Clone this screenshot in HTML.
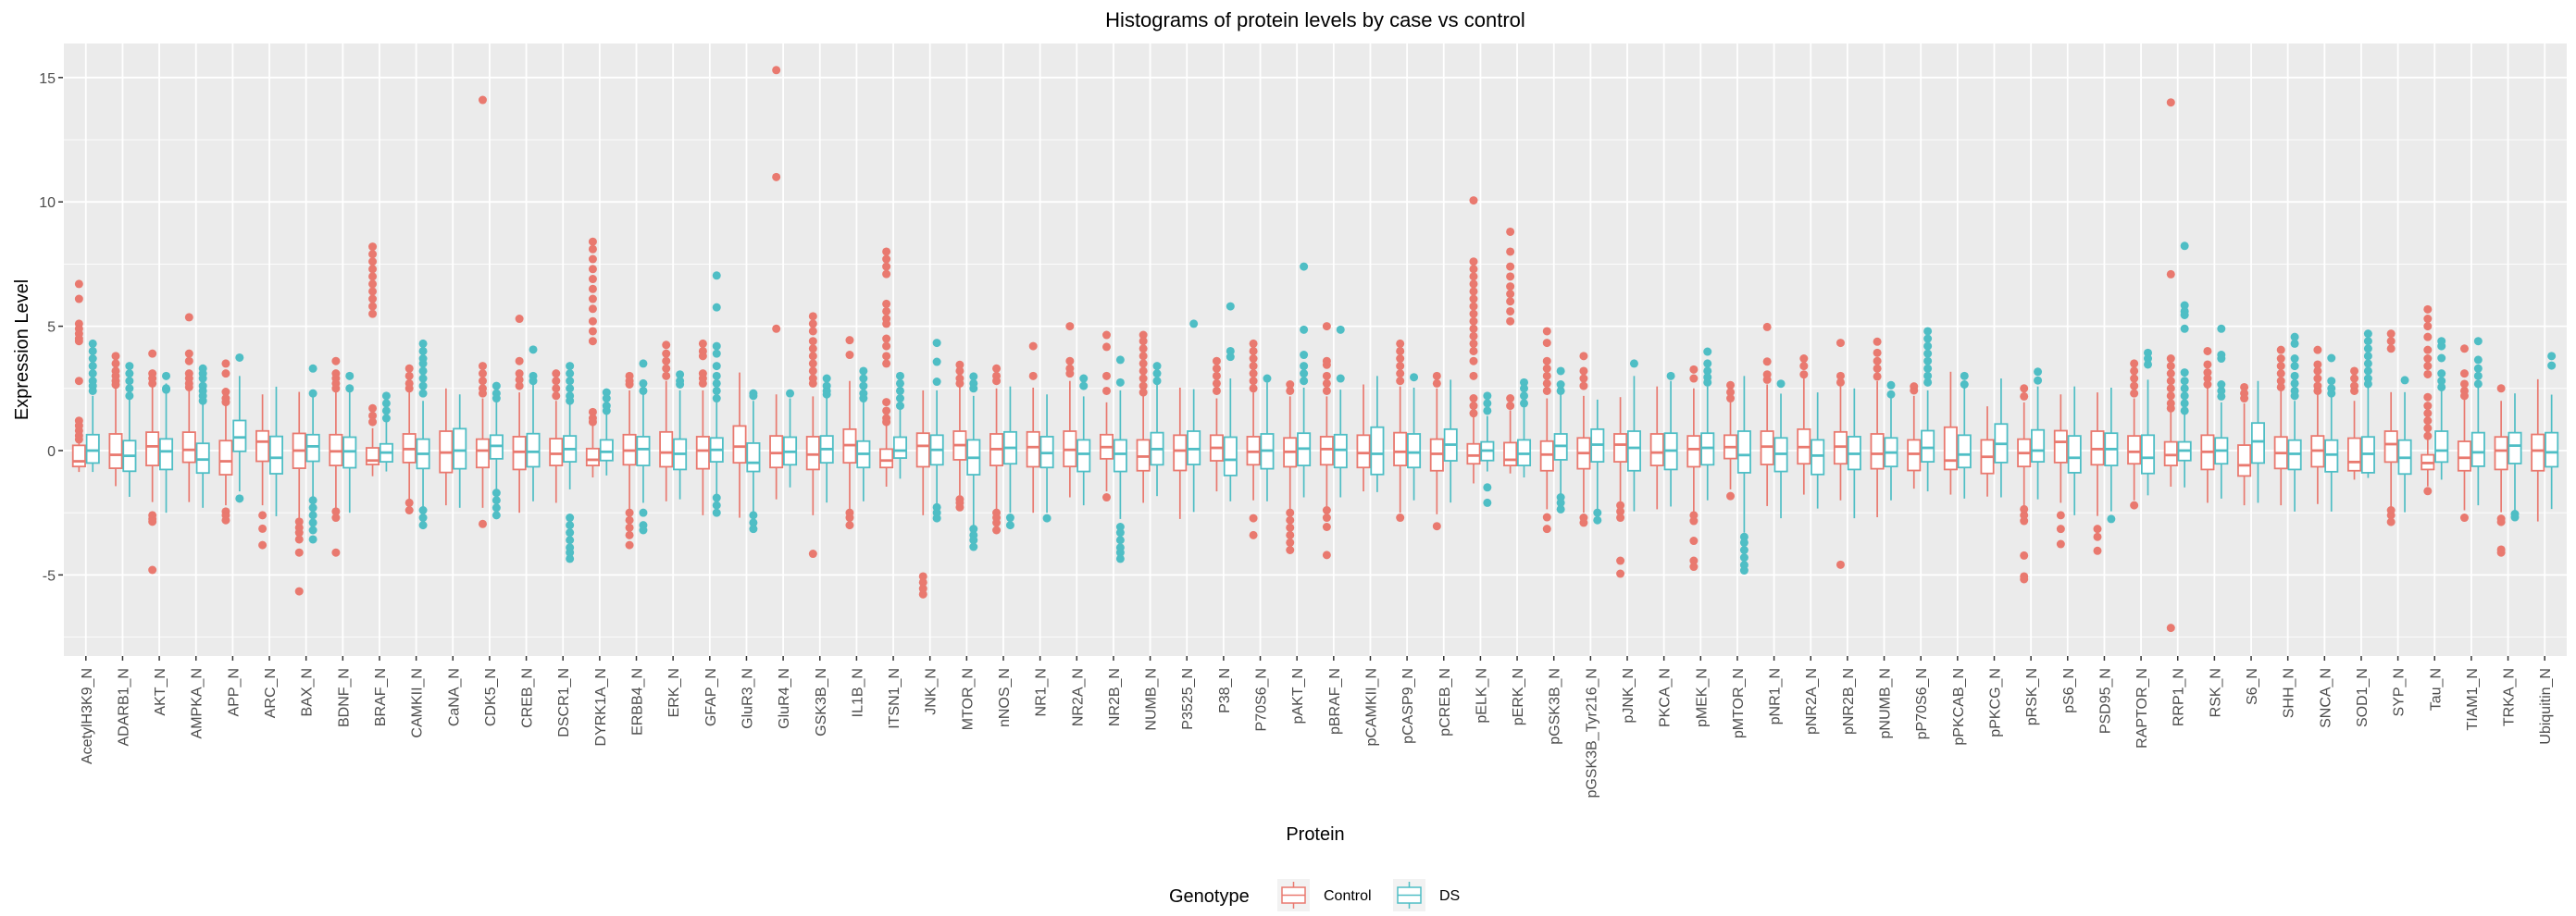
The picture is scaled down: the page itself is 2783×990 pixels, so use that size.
<!DOCTYPE html>
<html><head><meta charset="utf-8"><style>
html,body{margin:0;padding:0;background:#fff;}
svg{display:block;font-family:"Liberation Sans",Arial,sans-serif;}
</style></head><body>
<svg id="chart" width="2783" height="990" viewBox="0 0 2783 990" xmlns="http://www.w3.org/2000/svg">
<rect x="0" y="0" width="2783" height="990" fill="#fff"/>
<text x="1421" y="29" font-size="22" text-anchor="middle" fill="#000">Histograms of protein levels by case vs control</text>
<rect x="69" y="47" width="2704" height="662" fill="#EBEBEB"/>
<g id="grid"></g>
<g id="yaxis"></g>
<g id="xaxis"></g>
<g id="boxes"></g>
<text transform="translate(30,378) rotate(-90)" font-size="20" text-anchor="middle" fill="#000">Expression Level</text>
<text x="1421" y="908" font-size="20" text-anchor="middle" fill="#000">Protein</text>
<g>
<text x="1263" y="975" font-size="20" fill="#000">Genotype</text>
<g>
<rect x="1380" y="950" width="35" height="35" fill="#F2F2F2"/>
<line x1="1397.5" y1="953" x2="1397.5" y2="982" stroke="#E9796F" stroke-width="1.5"/>
<rect x="1385" y="959" width="25" height="17" fill="#fff" stroke="#E9796F" stroke-width="1.5"/>
<line x1="1385" y1="967.5" x2="1410" y2="967.5" stroke="#E9796F" stroke-width="1.5"/>
<text x="1430" y="973" font-size="16" fill="#000">Control</text>
</g>
<g>
<rect x="1505" y="950" width="35" height="35" fill="#F2F2F2"/>
<line x1="1522.5" y1="953" x2="1522.5" y2="982" stroke="#4FBEC5" stroke-width="1.5"/>
<rect x="1510" y="959" width="25" height="17" fill="#fff" stroke="#4FBEC5" stroke-width="1.5"/>
<line x1="1510" y1="967.5" x2="1535" y2="967.5" stroke="#4FBEC5" stroke-width="1.5"/>
<text x="1555" y="973" font-size="16" fill="#000">DS</text>
</g>
</g>
</svg>
<script>
const categories = ["AcetylH3K9_N","ADARB1_N","AKT_N","AMPKA_N","APP_N","ARC_N","BAX_N","BDNF_N","BRAF_N","CAMKII_N","CaNA_N","CDK5_N","CREB_N","DSCR1_N","DYRK1A_N","ERBB4_N","ERK_N","GFAP_N","GluR3_N","GluR4_N","GSK3B_N","IL1B_N","ITSN1_N","JNK_N","MTOR_N","nNOS_N","NR1_N","NR2A_N","NR2B_N","NUMB_N","P3525_N","P38_N","P70S6_N","pAKT_N","pBRAF_N","pCAMKII_N","pCASP9_N","pCREB_N","pELK_N","pERK_N","pGSK3B_N","pGSK3B_Tyr216_N","pJNK_N","PKCA_N","pMEK_N","pMTOR_N","pNR1_N","pNR2A_N","pNR2B_N","pNUMB_N","pP70S6_N","pPKCAB_N","pPKCG_N","pRSK_N","pS6_N","PSD95_N","RAPTOR_N","RRP1_N","RSK_N","S6_N","SHH_N","SNCA_N","SOD1_N","SYP_N","Tau_N","TIAM1_N","TRKA_N","Ubiquitin_N"];
const yTicks = [-5,0,5,10,15];
const yMinor = [-7.5,-2.5,2.5,7.5,12.5];
// [lowWhisker, q1, median, q3, highWhisker]
const controlBoxes = [
[-0.86,-0.64,-0.43,0.21,0.3],[-1.43,-0.71,-0.17,0.67,2.57],[-2.07,-0.6,0.17,0.74,2.57],[-2.07,-0.47,0.03,0.74,2.43],[-2.2,-0.97,-0.43,0.4,1.86],
[-2.2,-0.43,0.36,0.79,2.26],[-2.7,-0.71,0,0.69,2.36],[-2.3,-0.6,-0.03,0.64,2.7],[-1.03,-0.56,-0.4,0.11,0.9],[-1.96,-0.48,0.06,0.67,2.42],
[-2.2,-0.88,-0.08,0.78,2.5],[-2.3,-0.68,0,0.46,2.1],[-2.5,-0.76,-0.05,0.56,2.34],[-2.1,-0.6,-0.13,0.48,2.0],[-1.08,-0.6,-0.37,0.08,0.99],
[-2.36,-0.57,0,0.64,2.42],[-2.04,-0.65,-0.08,0.75,2.8],[-2.6,-0.73,0,0.56,2.42],[-2.7,-0.49,0.16,0.99,3.14],[-1.96,-0.68,-0.1,0.59,2.26],
[-2.6,-0.76,-0.16,0.56,2.18],[-2.44,-0.49,0.22,0.86,2.8],[-1.45,-0.68,-0.4,0.06,1.0],[-2.6,-0.65,0.19,0.7,2.42],[-1.8,-0.37,0.22,0.78,2.66],
[-2.36,-0.6,0.06,0.67,2.5],[-2.5,-0.65,0.14,0.75,2.53],[-1.88,-0.64,0.03,0.78,2.8],[-1.64,-0.33,0.14,0.64,1.94],[-2.1,-0.81,-0.24,0.43,2.26],
[-2.75,-0.8,0,0.62,2.53],[-1.64,-0.41,0.11,0.62,2.1],[-2.0,-0.57,-0.05,0.56,2.34],[-2.36,-0.65,-0.05,0.51,2.18],[-2.28,-0.57,0.06,0.56,2.18],
[-1.64,-0.68,-0.1,0.62,2.66],[-2.5,-0.6,-0.05,0.72,2.58],[-2.56,-0.81,-0.13,0.46,2.5],[-1.32,-0.53,-0.2,0.27,1.39],[-0.92,-0.6,-0.37,0.32,1.62],
[-2.36,-0.81,-0.16,0.38,2.1],[-2.5,-0.73,-0.1,0.51,2.2],[-2.04,-0.45,0.24,0.67,2.15],[-2.36,-0.6,-0.08,0.67,2.58],[-2.44,-0.65,0.06,0.59,2.5],
[-1.56,-0.32,0.14,0.62,1.94],[-2.23,-0.56,0.16,0.78,2.66],[-1.77,-0.53,0.14,0.86,2.9],[-2.0,-0.53,0.16,0.75,2.58],[-2.68,-0.73,-0.13,0.67,2.8],
[-1.53,-0.8,-0.13,0.43,2.2],[-1.77,-0.76,-0.4,0.94,3.17],[-1.85,-0.92,-0.25,0.43,1.78],[-2.2,-0.64,-0.1,0.46,1.94],[-2.1,-0.48,0.35,0.8,2.26],
[-2.63,-0.57,0.06,0.78,2.34],[-2.0,-0.53,-0.05,0.59,2.1],[-1.45,-0.6,-0.18,0.35,1.62],[-2.1,-0.76,-0.05,0.62,2.63],[-2.2,-1.02,-0.59,0.22,1.9],
[-2.2,-0.72,-0.1,0.55,2.4],[-2.15,-0.65,0,0.59,2.3],[-1.17,-0.81,-0.46,0.5,2.0],[-2.35,-0.46,0.26,0.78,2.35],[-1.44,-0.76,-0.5,-0.17,0.46],
[-2.4,-0.81,-0.29,0.37,2.1],[-2.48,-0.76,0,0.55,2.0],[-2.85,-0.81,0,0.65,2.87]];
const dsBoxes = [
[-0.86,-0.5,0,0.64,2.2],[-1.86,-0.83,-0.21,0.4,2.07],[-2.5,-0.76,-0.03,0.47,2.7],[-2.3,-0.9,-0.36,0.29,2.3],[-1.64,-0.03,0.53,1.21,3.0],
[-2.64,-0.93,-0.29,0.57,2.57],[-1.9,-0.43,0.17,0.64,2.14],[-2.5,-0.69,-0.03,0.54,2.43],[-0.84,-0.45,-0.08,0.27,1.15],[-2.36,-0.72,-0.13,0.46,2.0],
[-2.3,-0.73,0,0.88,2.26],[-1.56,-0.33,0.19,0.62,2.0],[-2.04,-0.65,-0.05,0.68,2.66],[-1.56,-0.45,0.06,0.59,1.94],[-1.0,-0.4,-0.05,0.43,1.55],
[-2.1,-0.6,0.06,0.56,2.26],[-1.96,-0.76,-0.13,0.46,2.42],[-1.8,-0.45,0.03,0.51,1.94],[-2.5,-0.84,-0.49,0.3,2.0],[-1.48,-0.57,-0.05,0.54,2.1],
[-2.09,-0.49,0.06,0.59,2.18],[-2.04,-0.68,-0.13,0.38,2.0],[-1.13,-0.3,0,0.54,1.7],[-2.2,-0.57,0.03,0.62,2.42],[-3.0,-0.97,-0.29,0.43,2.2],
[-2.5,-0.53,0.11,0.75,2.58],[-2.5,-0.68,-0.1,0.56,2.26],[-2.2,-0.84,-0.13,0.43,2.18],[-2.75,-0.84,-0.13,0.43,2.42],[-1.83,-0.57,0.06,0.72,2.66],
[-2.47,-0.56,0.06,0.78,2.47],[-2.04,-1.0,-0.37,0.54,2.9],[-2.04,-0.73,0,0.67,2.74],[-1.88,-0.6,0.08,0.7,2.53],[-1.88,-0.68,0.03,0.64,2.45],
[-1.67,-0.96,-0.13,0.94,3.0],[-2.0,-0.68,-0.08,0.67,2.53],[-2.09,-0.41,0.24,0.86,2.85],[-0.84,-0.4,0,0.35,1.39],[-1.08,-0.6,-0.13,0.43,1.78],
[-1.8,-0.37,0.19,0.67,2.26],[-2.44,-0.45,0.24,0.86,2.05],[-2.44,-0.81,0.11,0.78,3.0],[-2.25,-0.76,0,0.7,2.8],[-2.0,-0.57,0.11,0.7,2.58],
[-3.3,-0.89,-0.18,0.78,3.0],[-2.72,-0.84,-0.13,0.51,2.29],[-2.33,-0.96,-0.2,0.43,2.34],[-2.72,-0.76,-0.13,0.56,2.5],[-2.0,-0.64,-0.08,0.51,2.1],
[-1.64,-0.45,0.11,0.8,2.42],[-1.93,-0.68,-0.16,0.62,2.58],[-1.88,-0.48,0.27,1.07,2.9],[-1.96,-0.45,0,0.83,2.58],[-2.6,-0.89,-0.29,0.59,2.58],
[-2.44,-0.6,0.06,0.7,2.53],[-1.8,-0.92,-0.29,0.62,2.85],[-1.48,-0.4,0,0.35,1.46],[-1.93,-0.53,0,0.51,1.94],[-2.1,-0.5,0.37,1.11,2.8],
[-2.45,-0.76,-0.13,0.42,2.0],[-2.45,-0.85,-0.16,0.42,2.15],[-1.1,-0.89,-0.13,0.55,2.55],[-2.48,-0.94,-0.29,0.42,2.35],[-1.17,-0.46,0,0.78,2.55],
[-2.2,-0.63,-0.07,0.72,2.55],[-2.48,-0.52,0.2,0.72,2.3],[-2.35,-0.65,-0.07,0.72,2.25]];
const controlOutliers = [
[6.7,6.1,5.1,4.9,4.7,4.5,4.4,2.8,1.2,1.0,0.8,0.6,0.45],[3.8,3.5,3.2,3.0,2.8,2.65],[3.9,3.1,2.9,2.7,-2.6,-2.75,-2.86,-4.8],[5.36,3.9,3.6,3.1,2.9,2.7,2.55],[3.5,3.1,2.36,2.1,1.95,-2.45,-2.6,-2.8],
[-2.6,-3.14,-3.8],[-2.86,-3.1,-3.3,-3.57,-4.1,-5.66],[3.6,3.1,2.9,2.7,2.5,-2.45,-2.7,-4.1],[1.7,1.4,1.15,8.2,7.9,7.6,7.3,7.0,6.7,6.4,6.1,5.8,5.5],[3.3,3.0,2.7,2.5,-2.1,-2.4],
[],[14.1,3.4,3.1,2.8,2.5,2.3,-2.95],[5.3,3.6,3.1,2.85,2.6],[3.1,2.8,2.5,2.2],[1.55,1.3,1.15,8.4,8.1,7.7,7.3,6.9,6.5,6.1,5.7,5.2,4.8,4.4],
[3.0,2.8,2.66,-2.5,-2.8,-3.1,-3.4,-3.8],[4.25,3.9,3.6,3.3,3.0],[4.3,4.0,3.8,3.1,2.9,2.7],[],[4.9,11.0,15.3],
[5.4,5.1,4.8,4.4,4.1,3.8,3.5,3.2,2.9,2.7,-4.15],[4.44,3.85,-2.5,-2.7,-3.0],[1.95,1.6,1.3,1.15,4.5,4.2,3.8,3.5,5.9,5.6,5.3,5.1,8.0,7.7,7.4,7.1],[-5.06,-5.3,-5.55,-5.78],[3.45,3.2,2.9,2.7,-1.96,-2.1,-2.28],
[3.3,3.0,2.8,-2.5,-2.7,-2.9,-3.2],[4.2,3.0],[5.0,3.6,3.3,3.1],[4.65,4.17,3.0,2.4,-1.88],[4.65,4.4,4.1,3.8,3.5,3.2,2.9,2.6,2.34],
[],[3.6,3.3,3.0,2.7,2.4],[4.3,4.0,3.7,3.4,3.1,2.8,2.5,-2.72,-3.4],[2.66,2.4,-2.5,-2.8,-3.1,-3.4,-3.7,-4.0],[5.0,3.6,3.45,3.0,2.7,2.4,-2.4,-2.7,-3.07,-4.2],
[],[4.3,4.0,3.7,3.4,3.1,2.8,-2.7],[3.0,2.7,-3.04],[2.1,1.8,1.5,10.06,7.6,7.3,7.0,6.7,6.4,6.1,5.8,5.5,5.2,4.9,4.6,4.3,4.0,3.6,3.0],[2.1,1.8,8.8,8.0,7.4,7.0,6.6,6.3,6.0,5.6,5.2],
[4.8,4.33,3.6,3.3,3.0,2.7,2.4,-2.68,-3.15],[3.8,3.2,2.9,2.6,-2.7,-2.9],[-2.2,-2.45,-2.7,-4.43,-4.95],[],[3.26,2.9,-2.6,-2.83,-3.63,-4.43,-4.67],
[2.63,2.35,2.1,-1.83],[4.97,3.58,3.06,2.85],[3.7,3.4,3.06],[4.33,3.0,2.74,-4.59],[4.38,3.93,3.6,3.3,2.98],
[2.58,2.42],[],[],[2.5,2.18,-2.36,-2.6,-2.83,-4.22,-5.06,-5.17],[-2.6,-3.15,-3.76],
[-3.15,-3.47,-4.03],[3.5,3.2,2.9,2.6,2.3,-2.2],[14.0,7.09,3.7,3.4,3.1,2.8,2.5,2.2,1.9,1.7,-7.13],[4.0,3.46,3.14,2.9,2.66],[2.55,2.3,2.1],
[4.05,3.7,3.4,3.1,2.8,2.55],[4.05,3.46,3.2,2.9,2.6,2.4],[3.2,2.9,2.6,2.4],[4.7,4.4,4.1,-2.4,-2.6,-2.87],[2.15,1.8,1.5,1.2,0.9,0.59,4.05,3.7,3.4,3.07,5.68,5.3,5.0,4.57,-1.63],
[4.1,3.1,2.68,2.4,2.2,-2.7],[2.5,-2.74,-2.87,-3.98,-4.1],[]];
const dsOutliers = [
[4.3,4.0,3.7,3.4,3.1,2.8,2.6,2.4],[3.4,3.1,2.8,2.5,2.2],[3.0,2.5,2.45],[3.3,3.1,2.9,2.6,2.4,2.2,2.0],[3.74,-1.93],
[],[3.3,2.3,-2.0,-2.3,-2.6,-2.9,-3.2,-3.57],[3.0,2.5],[2.2,1.9,1.6,1.3],[4.3,4.0,3.7,3.5,3.2,2.9,2.6,2.3,-2.4,-2.7,-3.0],
[],[2.6,2.3,2.1,-1.7,-2.0,-2.3,-2.6],[4.06,3.0,2.8],[3.4,3.1,2.8,2.5,2.2,2.0,-2.7,-3.0,-3.3,-3.6,-3.9,-4.1,-4.35],[2.34,2.1,1.8,1.6],
[3.5,2.7,2.4,-2.5,-3.0,-3.2],[3.06,2.8,2.66],[7.04,5.76,4.2,3.9,3.4,3.0,2.7,2.4,2.1,-1.9,-2.2,-2.5],[2.3,2.2,-2.6,-2.9,-3.15],[2.3],
[2.9,2.6,2.4,2.26],[3.2,2.9,2.6,2.3,2.1],[3.0,2.7,2.4,2.1,1.8],[4.33,3.57,2.77,-2.28,-2.5,-2.72],[2.98,2.7,2.5,-3.15,-3.4,-3.6,-3.87],
[-2.7,-3.0],[-2.72],[2.9,2.6],[3.65,2.74,-3.07,-3.3,-3.6,-3.9,-4.1,-4.35],[3.4,3.1,2.8],
[5.1],[5.8,4.0,3.77],[2.9],[7.4,4.86,3.85,3.4,3.1,2.8],[4.86,2.9],
[],[2.95],[],[2.2,1.9,1.6,-1.48,-2.1],[2.74,2.5,2.2,1.9],
[3.2,2.66,2.4,-1.88,-2.1,-2.36],[-2.5,-2.8],[3.5],[3.0],[3.98,3.5,3.2,2.95,2.74],
[-3.47,-3.7,-4.0,-4.3,-4.6,-4.82],[2.69],[],[],[2.63,2.26],
[4.8,4.5,4.2,3.9,3.6,3.3,3.0,2.74],[3.0,2.66],[],[3.17,2.82],[],
[-2.75],[3.93,3.7,3.46],[8.23,5.84,5.6,5.45,4.9,3.14,2.8,2.5,2.2,1.9,1.6],[4.9,3.85,3.7,2.66,2.4,2.18],[],
[4.57,4.3,3.7,3.4,3.0,2.7,2.4,2.2],[3.72,2.8,2.5,2.3],[4.7,4.4,4.1,3.8,3.5,3.2,2.9,2.68],[2.83],[4.4,4.2,3.72,3.1,2.8,2.55],
[4.4,3.65,3.3,3.0,2.68],[-2.55,-2.68],[3.8,3.42]];

const NS = "http://www.w3.org/2000/svg";
const PX0 = 69, PX1 = 2773, PY0 = 47, PY1 = 709;
const yMin = -8.26, yMax = 16.37;
function yScale(v){ return PY1 - (v - yMin) / (yMax - yMin) * (PY1 - PY0); }
const step = (PX1 - PX0) / (categories.length - 1 + 1.2);
function xScale(i){ return PX0 + step * (0.6 + i); }
function mk(tag, attrs, parent){
  const el = document.createElementNS(NS, tag);
  for (const k in attrs) el.setAttribute(k, attrs[k]);
  parent.appendChild(el);
  return el;
}
const grid = document.getElementById('grid');
yMinor.forEach(v => {
  const l = mk('line', {x1:PX0, x2:PX1, y1:yScale(v), y2:yScale(v), stroke:'#fff', 'stroke-width':0.9}, grid);
  
  
});
yTicks.forEach(v => {
  const l = mk('line', {x1:PX0, x2:PX1, y1:yScale(v), y2:yScale(v), stroke:'#fff', 'stroke-width':1.8}, grid);
  
  
});
categories.forEach((c, i) => {
  const l = mk('line', {x1:xScale(i), x2:xScale(i), y1:PY0, y2:PY1, stroke:'#fff', 'stroke-width':1.8}, grid);
  
  
});
const yaxis = document.getElementById('yaxis');
yTicks.forEach(v => {
  const y = yScale(v);
  mk('line', {x1:63, x2:68, y1:y, y2:y, stroke:'#333', 'stroke-width':1.5}, yaxis);
  const t = mk('text', {x:60, y:y + 6, 'font-size':16, 'text-anchor':'end', fill:'#4D4D4D'}, yaxis);
  t.textContent = String(v);
  
  
});
const xaxis = document.getElementById('xaxis');
categories.forEach((c, i) => {
  const x = xScale(i);
  mk('line', {x1:x, x2:x, y1:PY1, y2:PY1 + 5, stroke:'#333', 'stroke-width':1.5}, xaxis);
  const t = mk('text', {transform:'translate(' + (x + 6) + ',722) rotate(-90)', 'font-size':16, 'text-anchor':'end', fill:'#4D4D4D'}, xaxis);
  t.textContent = c;
  
  
});
const boxes = document.getElementById('boxes');
const bw = step * 0.75 / 2;
function drawBox(i, stats, outs, color, offset, label){
  const cx = xScale(i) + offset;
  const g = mk('g', {}, boxes);
  
  
  const [lo, q1, md, q3, hi] = stats;
  mk('line', {x1:cx, x2:cx, y1:yScale(hi), y2:yScale(q3), stroke:color, 'stroke-width':1.7}, g);
  mk('line', {x1:cx, x2:cx, y1:yScale(q1), y2:yScale(lo), stroke:color, 'stroke-width':1.7}, g);
  mk('rect', {x:cx - bw/2 + 0.8, y:yScale(q3), width:bw - 1.6, height:Math.max(1, yScale(q1) - yScale(q3)), fill:'#fff', stroke:color, 'stroke-width':1.8}, g);
  mk('line', {x1:cx - bw/2 + 0.8, x2:cx + bw/2 - 0.8, y1:yScale(md), y2:yScale(md), stroke:color, 'stroke-width':2.8}, g);
  outs.forEach(v => {
    const p = mk('circle', {cx:cx, cy:yScale(v), r:4.5, fill:color}, g);
    
    
  });
}
categories.forEach((c, i) => {
  drawBox(i, controlBoxes[i], controlOutliers[i], '#E9796F', -bw/2, 'control');
  drawBox(i, dsBoxes[i], dsOutliers[i], '#4FBEC5', bw/2, 'ds');
});
</script>
</body></html>
